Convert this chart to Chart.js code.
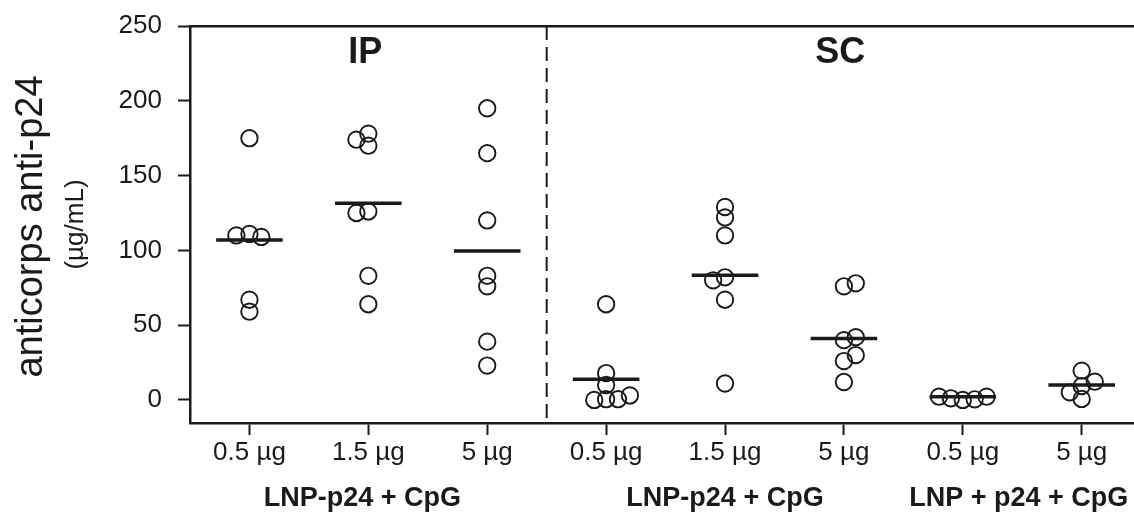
<!DOCTYPE html>
<html>
<head>
<meta charset="utf-8">
<script src="https://cdn.jsdelivr.net/npm/chart.js@4.4.0/dist/chart.umd.min.js"></script>
<style>
  html, body { margin: 0; padding: 0; background: #fff; overflow: hidden; }
  canvas { display: block; }
</style>
</head>
<body>
<canvas id="chart" width="1134" height="515"></canvas>
<script>
// positions of the groups on the x axis and their labels
const groupPos = [1, 2, 3, 4, 5, 6, 7, 8];
const tickLabels = ['0.5 µg', '1.5 µg', '5 µg', '0.5 µg', '1.5 µg', '5 µg', '0.5 µg', '5 µg'];
const yTicks = [0, 50, 100, 150, 200, 250];

// anti-p24 (µg/mL), one array per group
const ip05 = [175, 110, 111, 109, 67, 59];
const ip15 = [174, 178, 170, 125, 126, 83, 64];
const ip5 = [195, 165, 120, 83, 76, 39, 23];
const sc05 = [64, 18, 10, 0, 0.5, 0.5, 3];
const sc15 = [129, 122, 110, 80, 82, 67, 11];
const sc5 = [76, 78, 40, 42, 30, 26, 12];
const mix05 = [2.2, 1.1, 0, 0.4, 2.2];
const mix5 = [19.6, 12.2, 9.3, 5.1, 0.7];

// horizontal spread of the dots inside a group (in group units)
const ip05Jit = [0, -0.11, 0, 0.1, 0, 0];
const ip15Jit = [-0.1, 0, 0, -0.1, 0, 0, 0];
const ip5Jit = [0, 0, 0, 0, 0, 0, 0];
const sc05Jit = [0, 0, 0, -0.1, 0, 0.1, 0.2];
const sc15Jit = [0, 0, 0, -0.1, 0, 0, 0];
const sc5Jit = [0, 0.1, 0, 0.1, 0.1, 0, 0];
const mix05Jit = [-0.2, -0.1, 0, 0.1, 0.2];
const mix5Jit = [0, 0.11, 0, -0.1, 0];

const medians = [107, 131.5, 99.6, 13.8, 83.3, 41.1, 2.2, 10];

const panelNames = ['IP', 'SC'];
const groupLabels = ['LNP-p24 + CpG', 'LNP-p24 + CpG', 'LNP + p24 + CpG'];
const groupLabelAt = [1.95, 5, 7.47];
const divider = 3.5;

const allValues = [ip05, ip15, ip5, sc05, sc15, sc5, mix05, mix5];
const allJitter = [ip05Jit, ip15Jit, ip5Jit, sc05Jit, sc15Jit, sc5Jit, mix05Jit, mix5Jit];

const ink = '#1a1a1a';
const font = 'Arial, "Liberation Sans", sans-serif';

const datasets = [];
allValues.forEach((vals, g) => {
    datasets.push({
        type: 'scatter',
        data: vals.map((v, i) => ({ x: groupPos[g] + allJitter[g][i], y: v })),
        pointRadius: 8.2,
        pointBorderWidth: 1.9,
        pointBorderColor: ink,
        pointBackgroundColor: 'rgba(0,0,0,0)'
    });
});
medians.forEach((m, g) => {
    datasets.push({
        type: 'line',
        data: [{ x: groupPos[g] - 0.28, y: m }, { x: groupPos[g] + 0.28, y: m }],
        borderColor: ink,
        borderWidth: 3.5,
        pointRadius: 0,
        fill: false
    });
});

// no extra room around the axes, the plot runs to the right edge
function noPad(s) {
    s.paddingLeft = 0;
    s.paddingRight = 0;
    s.paddingTop = 0;
    s.paddingBottom = 0;
}

const extras = {
    id: 'extras',
    beforeDatasetsDraw(chart) {
        const ctx = chart.ctx;
        const a = chart.chartArea;
        const x = chart.scales.x.getPixelForValue(divider);
        ctx.save();
        ctx.strokeStyle = ink;
        ctx.lineWidth = 2;
        ctx.setLineDash([14, 7]);
        ctx.beginPath();
        ctx.moveTo(x, a.top);
        ctx.lineTo(x, a.bottom);
        ctx.stroke();
        ctx.restore();
    },
    afterDraw(chart) {
        const ctx = chart.ctx;
        const a = chart.chartArea;
        const xs = chart.scales.x;
        const dx = xs.getPixelForValue(divider);
        ctx.save();
        ctx.fillStyle = ink;
        ctx.textAlign = 'center';
        ctx.textBaseline = 'alphabetic';

        // panel names
        ctx.font = 'bold 36px ' + font;
        ctx.fillText(panelNames[0], (a.left + dx) / 2 - 3, 63);
        ctx.fillText(panelNames[1], (dx + a.right) / 2, 63);

        // group labels under the ticks
        ctx.font = 'bold 27px ' + font;
        groupLabels.forEach((t, i) => {
            ctx.fillText(t, xs.getPixelForValue(groupLabelAt[i]), 506);
        });

        // y title
        const cy = (a.top + a.bottom) / 2;
        ctx.translate(42, cy + 2);
        ctx.rotate(-Math.PI / 2);
        ctx.font = '38px ' + font;
        ctx.fillText('anticorps anti-p24', 0, 0);
        ctx.restore();

        ctx.save();
        ctx.fillStyle = ink;
        ctx.textAlign = 'center';
        ctx.translate(83, cy);
        ctx.rotate(-Math.PI / 2);
        ctx.font = '26px ' + font;
        ctx.fillText('(µg/mL)', 0, 0);
        ctx.restore();
    }
};

const ctx = document.getElementById('chart').getContext('2d');
const chart = new Chart(ctx, {
    data: { datasets: datasets },
    options: {
        responsive: false,
        animation: false,
        events: [],
        layout: { padding: 0, autoPadding: false },
        plugins: {
            legend: { display: false },
            tooltip: { enabled: false }
        },
        scales: {
            x: {
                type: 'linear',
                position: 'bottom',
                min: 0.5,
                max: 8.44,
                afterBuildTicks: s => { s.ticks = groupPos.map(v => ({ value: v })); },
                afterFit: s => { s.height = 92; noPad(s); },
                ticks: {
                    callback: v => tickLabels[groupPos.indexOf(v)],
                    color: ink,
                    font: { family: font, size: 26 },
                    padding: 2,
                    maxRotation: 0,
                    autoSkip: false
                },
                grid: { drawOnChartArea: false, drawTicks: true, tickLength: 12, tickWidth: 2, color: ink },
                border: { display: true, color: ink, width: 2.5 }
            },
            xTop: {
                type: 'linear',
                position: 'top',
                min: 0.5,
                max: 8.44,
                afterFit: s => { s.height = 26; noPad(s); },
                ticks: { display: false },
                grid: { display: false, drawTicks: false },
                border: { display: true, color: ink, width: 2.5 }
            },
            y: {
                type: 'linear',
                min: -15.4,
                max: 250,
                afterBuildTicks: s => { s.ticks = yTicks.map(v => ({ value: v })); },
                afterFit: s => { s.width = 190; noPad(s); },
                ticks: {
                    color: ink,
                    font: { family: font, size: 26 },
                    padding: 16
                },
                grid: { drawOnChartArea: false, drawTicks: true, tickLength: 12, tickWidth: 2, color: ink },
                border: { display: true, color: ink, width: 2.5 }
            }
        }
    },
    plugins: [extras]
});
</script>
</body>
</html>
